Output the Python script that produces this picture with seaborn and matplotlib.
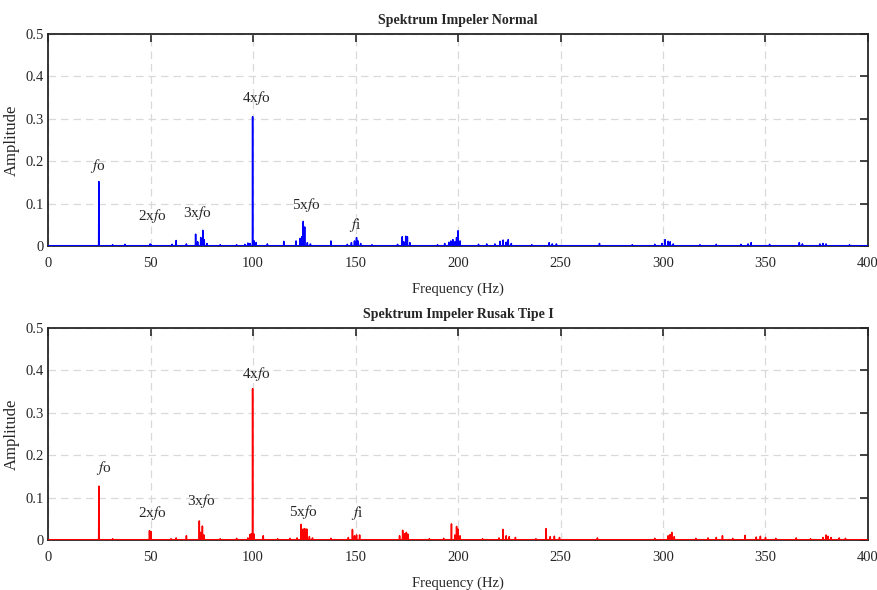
import numpy as np
import pandas as pd
import seaborn as sns
import matplotlib
matplotlib.use("Agg")
import matplotlib.pyplot as plt

# ---------------- data ----------------
normal_freq = [24.8, 31.5, 37.5, 49.8, 50.3, 60.5, 62.5, 67.5, 72.0, 73.0, 74.5, 75.5, 76.2, 77.5,
               84.0, 92.0, 96.0, 97.5, 98.5, 99.8, 100.6, 101.5, 107.0, 115.0, 121.0, 123.0,
               123.8, 124.5, 125.2, 126.5, 128.0, 138.0, 146.0, 148.0, 149.5, 150.5, 151.2, 152.5,
               158.0, 170.5, 172.8, 173.5, 174.5, 175.3, 176.5, 190.0, 193.5, 195.5, 196.5,
               197.5, 198.5, 199.3, 200.0, 201.0, 210.0, 214.0, 218.0, 220.5, 222.0, 223.5, 224.5,
               226.0, 236.0, 244.5, 246.0, 248.0, 269.0, 285.0, 296.0, 299.5, 301.0, 302.5,
               303.5, 305.0, 318.0, 326.0, 338.0, 341.5, 343.0, 352.0, 366.5, 368.0, 376.5,
               378.0, 379.5, 391.0]
normal_amp = [0.152, 0.003, 0.004, 0.005, 0.003, 0.004, 0.013, 0.005, 0.028, 0.010, 0.020, 0.037,
              0.015, 0.006, 0.003, 0.003, 0.004, 0.007, 0.006, 0.305, 0.012, 0.008, 0.005, 0.011,
              0.012, 0.018, 0.022, 0.058, 0.045, 0.008, 0.005, 0.012, 0.004, 0.008, 0.012, 0.020,
              0.012, 0.006, 0.003, 0.004, 0.022, 0.010, 0.023, 0.022, 0.008, 0.003, 0.006, 0.009,
              0.012, 0.015, 0.010, 0.020, 0.036, 0.012, 0.004, 0.005, 0.005, 0.011, 0.014,
              0.009, 0.015, 0.006, 0.003, 0.008, 0.005, 0.005, 0.006, 0.003, 0.004, 0.006, 0.015,
              0.011, 0.010, 0.005, 0.003, 0.004, 0.004, 0.005, 0.008, 0.004, 0.008, 0.005, 0.005,
              0.006, 0.005, 0.003]

rusak_freq = [24.8, 31.5, 49.5, 50.2, 60.0, 62.5, 67.5, 73.8, 74.5, 75.3, 76.0, 84.0, 92.0,
              97.5, 98.5, 99.2, 99.8, 100.5, 105.0, 112.0, 118.0, 121.5, 123.5, 124.5, 125.2,
              126.2, 127.5, 129.0, 138.0, 146.5, 148.5, 149.5, 150.5, 152.0, 171.5, 173.0,
              174.0, 174.8, 175.5, 186.0, 193.0, 196.8, 198.5, 199.3, 200.0, 201.0, 212.0,
              220.0, 222.0, 223.5, 225.0, 228.0, 238.0, 243.0, 245.0, 247.0, 249.5, 268.0,
              296.0, 302.5, 303.5, 304.3, 305.5, 316.0, 322.0, 326.0, 329.0, 334.0, 340.0,
              345.5, 347.5, 350.0, 355.0, 365.0, 372.0, 378.0, 379.5, 380.5, 382.0, 386.0,
              389.0]
rusak_amp = [0.127, 0.003, 0.022, 0.020, 0.003, 0.005, 0.010, 0.045, 0.018, 0.033, 0.012, 0.003,
             0.004, 0.005, 0.013, 0.015, 0.357, 0.014, 0.010, 0.003, 0.004, 0.005, 0.037,
             0.026, 0.027, 0.026, 0.008, 0.005, 0.004, 0.006, 0.025, 0.010, 0.012, 0.012, 0.010,
             0.023, 0.015, 0.018, 0.014, 0.003, 0.004, 0.038, 0.012, 0.032, 0.026, 0.010,
             0.003, 0.005, 0.025, 0.010, 0.008, 0.006, 0.003, 0.027, 0.008, 0.009, 0.006, 0.005,
             0.004, 0.010, 0.013, 0.018, 0.008, 0.004, 0.005, 0.006, 0.010, 0.004, 0.011,
             0.007, 0.009, 0.006, 0.004, 0.005, 0.003, 0.006, 0.012, 0.009, 0.006, 0.005,
             0.004]

x_ticks = [0, 50, 100, 150, 200, 250, 300, 350, 400]
y_ticks = [0, 0.1, 0.2, 0.3, 0.4, 0.5]
y_tick_labels = ["0", "0.1", "0.2", "0.3", "0.4", "0.5"]

titles = ["Spektrum Impeler Normal", "Spektrum Impeler Rusak Tipe I"]
colors = ["#0000ff", "#ff0000"]

labels = ["$f$o", "2x$f$o", "3x$f$o", "4x$f$o", "5x$f$o", "$f$i"]
normal_label_x = [24.4, 50.7, 73.0, 101.5, 126.0, 149.8]
normal_label_y = [0.189, 0.071, 0.078, 0.349, 0.097, 0.050]
rusak_label_x = [27.0, 50.7, 75.0, 101.5, 124.4, 150.7]
rusak_label_y = [0.170, 0.064, 0.092, 0.392, 0.066, 0.064]

# ---------------- build spectrum series ----------------
step = 0.1
freq_grid = np.round(np.arange(0, 400 + step / 2, step), 2)


def spectrum(freqs, amps):
    amp = np.zeros_like(freq_grid)
    for f, a in zip(freqs, amps):
        i = int(round(f / step))
        amp[i] = max(amp[i], a)
    return pd.DataFrame({"Frequency": freq_grid, "Amplitude": amp})


df_normal = spectrum(normal_freq, normal_amp)
df_rusak = spectrum(rusak_freq, rusak_amp)

# ---------------- style ----------------
sns.set_theme(style="white")
plt.rcParams["font.family"] = ["Liberation Serif", "DejaVu Serif"]
plt.rcParams["mathtext.fontset"] = "stix"

fig = plt.figure(figsize=(8.78, 5.90), dpi=100)
ax1 = fig.add_axes([0.0547, 0.583, 0.9339, 0.3593])
ax2 = fig.add_axes([0.0547, 0.0847, 0.9339, 0.3594])

for ax, df, col, title, lx, ly in [
    (ax1, df_normal, colors[0], titles[0], normal_label_x, normal_label_y),
    (ax2, df_rusak, colors[1], titles[1], rusak_label_x, rusak_label_y),
]:
    sns.lineplot(data=df, x="Frequency", y="Amplitude", ax=ax, color=col,
                 linewidth=1.1, estimator=None, sort=False)
    ax.axhline(0, color=col, linewidth=2.2, zorder=3)
    ax.set_xlim(0, 400)
    ax.set_ylim(0, 0.5)
    ax.set_xticks(x_ticks)
    ax.set_xticklabels([str(t) for t in x_ticks])
    ax.set_yticks(y_ticks)
    ax.set_yticklabels(y_tick_labels)
    ax.grid(True, linestyle=(0, (6, 4)), color="#d9d9d9", linewidth=0.9)
    ax.set_axisbelow(True)
    ax.tick_params(direction="in", length=6, width=1.2, top=True, right=True,
                   labelsize=10.5, colors="#262626")
    ax.tick_params(axis="x", pad=8)
    ax.tick_params(axis="y", pad=3)
    for s in ax.spines.values():
        s.set_linewidth(1.3)
        s.set_color("#262626")
    ax.set_title(title, fontsize=10, fontweight="bold", pad=7)
    ax.set_xlabel("Frequency (Hz)", fontsize=10.5, labelpad=9)
    ax.set_ylabel("Amplitude", fontsize=12, labelpad=4)
    for t, x, y in zip(labels, lx, ly):
        ax.text(x, y, t, ha="center", va="center", fontsize=11, color="#262626")

fig.savefig("out.png", dpi=100)
